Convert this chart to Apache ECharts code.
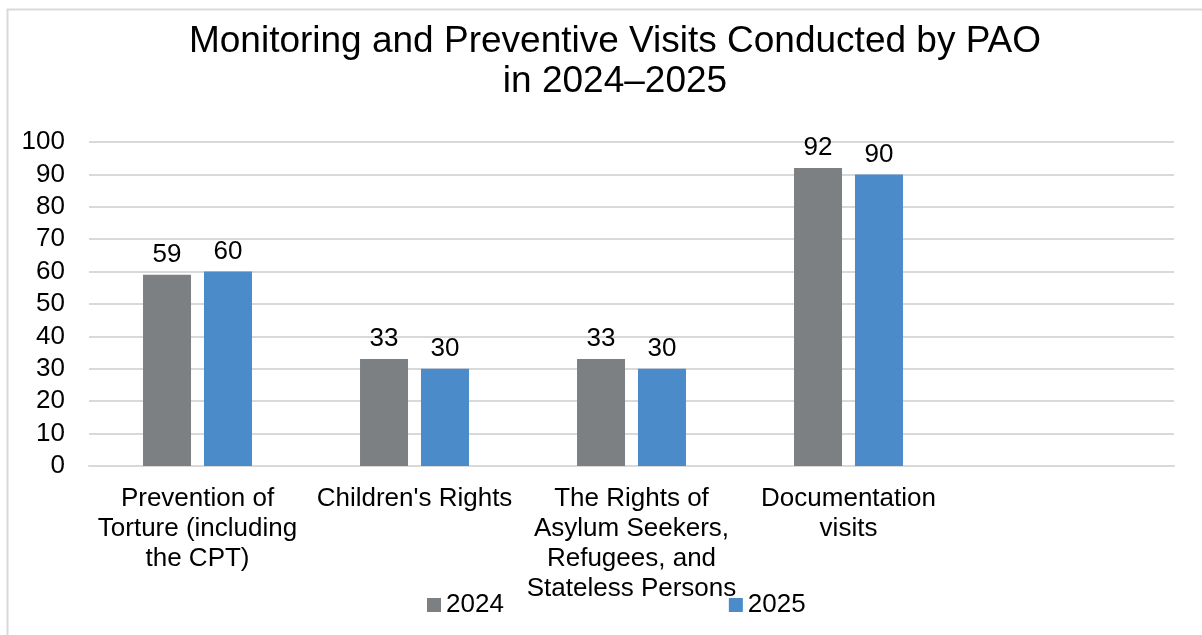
<!DOCTYPE html>
<html>
<head>
<meta charset="utf-8">
<script src="https://cdn.jsdelivr.net/npm/echarts@6/dist/echarts.min.js"></script>
<style>
  html, body { margin: 0; padding: 0; background: #fff; }
  #chart { width: 1202px; height: 635px; }
</style>
</head>
<body>
<div id="chart"></div>
<script>
// data
const categories = [
  'Prevention of\nTorture (including\nthe CPT)',
  "Children's Rights",
  'The Rights of\nAsylum Seekers,\nRefugees, and\nStateless Persons',
  'Documentation\nvisits',
  ''
];
const values2024 = [59, 33, 33, 92, null];
const values2025 = [60, 30, 30, 90, null];
const yTicks = { min: 0, max: 100, interval: 10 };

const chart = echarts.init(document.getElementById('chart'));
const font = 'Liberation Sans, Arial, sans-serif';

const option = {
  backgroundColor: '#fff',
  animation: false,
  graphic: [{
    type: 'rect',
    shape: { x: 7.5, y: 9.5, width: 1300, height: 700 },
    style: { fill: 'none', stroke: '#d9d9d9', lineWidth: 2 },
    silent: true
  }],
  title: {
    text: 'Monitoring and Preventive Visits Conducted by PAO\nin 2024\u20132025',
    left: 610,
    textAlign: 'center',
    top: 17,
    textStyle: {
      fontFamily: font,
      fontSize: 37,
      fontWeight: 'normal',
      color: '#000',
      lineHeight: 40
    }
  },
  legend: {
    left: 427,
    top: 592,
    padding: 0,
    itemWidth: 14,
    itemHeight: 14,
    itemGap: 225,
    icon: 'rect',
    textStyle: { fontFamily: font, fontSize: 26, color: '#000' },
    data: ['2024', '2025']
  },
  grid: {
    left: 89,
    right: 28,
    top: 142,
    bottom: 169,
    containLabel: false
  },
  xAxis: {
    type: 'category',
    data: categories,
    axisLine: { lineStyle: { color: '#d9d9d9', width: 2 } },
    axisTick: { show: false },
    axisLabel: {
      interval: 0,
      margin: 18,
      fontFamily: font,
      fontSize: 26,
      color: '#000',
      lineHeight: 30
    }
  },
  yAxis: {
    type: 'value',
    min: yTicks.min,
    max: yTicks.max,
    interval: yTicks.interval,
    axisLine: { show: false },
    axisTick: { show: false },
    splitLine: { lineStyle: { color: '#d9d9d9', width: 2 } },
    axisLabel: {
      margin: 24,
      fontFamily: font,
      fontSize: 26,
      color: '#000'
    }
  },
  series: [
    {
      name: '2024',
      type: 'bar',
      data: values2024,
      barWidth: 48,
      barGap: '27%',
      itemStyle: { color: '#7d8083' },
      label: {
        show: true,
        position: 'top',
        distance: 7,
        fontFamily: font,
        fontSize: 26,
        color: '#000'
      }
    },
    {
      name: '2025',
      type: 'bar',
      data: values2025,
      barWidth: 48,
      barGap: '27%',
      itemStyle: { color: '#4c8bca' },
      label: {
        show: true,
        position: 'top',
        distance: 7,
        fontFamily: font,
        fontSize: 26,
        color: '#000'
      }
    }
  ]
};

chart.setOption(option);
</script>
</body>
</html>
